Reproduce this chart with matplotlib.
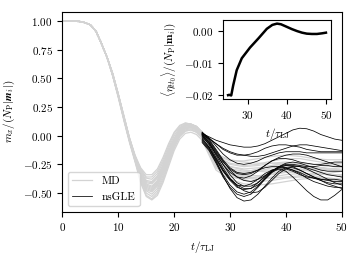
import matplotlib
matplotlib.use("Agg")
import matplotlib.pyplot as plt

plt.rcParams['font.family'] = 'serif'
plt.rcParams['font.serif'] = ['cmr10']
plt.rcParams['mathtext.fontset'] = 'cm'
plt.rcParams['axes.formatter.use_mathtext'] = True
plt.rcParams['font.size'] = 8

# MD trajectories: t = 0..25 (step 1), then 27.5..50 (step 2.5)
t_md = [0, 1, 2, 3, 4, 5, 6, 7, 8, 9, 10, 11, 12, 13, 14, 15, 16, 17, 18, 19, 20,
        21, 22, 23, 24, 25, 27.5, 30, 32.5, 35, 37.5, 40, 42.5, 45, 47.5, 50]
md_head = [1.0, 1.0, 0.998, 0.995, 0.985, 0.965, 0.91, 0.80, 0.68]
md_mid = [
    [0.53, 0.35, 0.16, -0.03, -0.19, -0.32, -0.40, -0.41, -0.36, -0.26, -0.14, -0.03, 0.05, 0.09, 0.10, 0.08, 0.03],
    [0.52, 0.34, 0.14, -0.05, -0.22, -0.40, -0.52, -0.55, -0.50, -0.39, -0.25, -0.11, -0.01, 0.04, 0.05, 0.03, -0.02],
    [0.54, 0.36, 0.17, -0.02, -0.17, -0.28, -0.34, -0.34, -0.29, -0.19, -0.07, 0.03, 0.09, 0.11, 0.10, 0.07, 0.02],
    [0.53, 0.35, 0.15, -0.04, -0.20, -0.35, -0.45, -0.47, -0.42, -0.31, -0.18, -0.06, 0.03, 0.07, 0.08, 0.06, 0.01],
    [0.53, 0.35, 0.16, -0.03, -0.19, -0.33, -0.42, -0.44, -0.39, -0.28, -0.16, -0.05, 0.04, 0.08, 0.09, 0.07, 0.02],
    [0.52, 0.34, 0.15, -0.04, -0.21, -0.37, -0.48, -0.51, -0.46, -0.35, -0.21, -0.08, 0.01, 0.05, 0.06, 0.04, -0.01],
    [0.54, 0.36, 0.17, -0.02, -0.18, -0.30, -0.37, -0.38, -0.33, -0.23, -0.11, 0.00, 0.07, 0.10, 0.10, 0.08, 0.03],
    [0.53, 0.35, 0.15, -0.04, -0.20, -0.34, -0.43, -0.45, -0.40, -0.29, -0.17, -0.06, 0.03, 0.07, 0.08, 0.06, 0.01],
    [0.52, 0.34, 0.14, -0.05, -0.22, -0.38, -0.50, -0.53, -0.48, -0.37, -0.23, -0.10, 0.00, 0.04, 0.05, 0.03, -0.02],
    [0.54, 0.36, 0.16, -0.03, -0.18, -0.31, -0.39, -0.40, -0.35, -0.25, -0.13, -0.02, 0.06, 0.10, 0.10, 0.08, 0.03],
    [0.53, 0.35, 0.15, -0.04, -0.21, -0.36, -0.46, -0.48, -0.43, -0.32, -0.19, -0.07, 0.02, 0.06, 0.07, 0.05, 0.00],
    [0.53, 0.35, 0.16, -0.03, -0.19, -0.32, -0.41, -0.42, -0.37, -0.27, -0.15, -0.04, 0.05, 0.09, 0.09, 0.07, 0.02],
    [0.52, 0.33, 0.13, -0.06, -0.23, -0.41, -0.53, -0.56, -0.52, -0.41, -0.27, -0.13, -0.03, 0.02, 0.03, 0.01, -0.04],
    [0.54, 0.36, 0.17, -0.02, -0.18, -0.29, -0.36, -0.36, -0.31, -0.21, -0.09, 0.02, 0.08, 0.11, 0.10, 0.08, 0.03],
    [0.53, 0.35, 0.15, -0.04, -0.20, -0.34, -0.44, -0.46, -0.41, -0.30, -0.17, -0.06, 0.03, 0.07, 0.08, 0.06, 0.01],
    [0.53, 0.34, 0.15, -0.04, -0.21, -0.36, -0.47, -0.49, -0.44, -0.33, -0.20, -0.08, 0.02, 0.06, 0.07, 0.05, 0.00],
]
md_tail = [
    [-0.20, -0.27, -0.29, -0.28, -0.26, -0.25, -0.26, -0.28, -0.29, -0.28],
    [-0.28, -0.36, -0.38, -0.36, -0.33, -0.31, -0.32, -0.35, -0.37, -0.38],
    [-0.17, -0.22, -0.22, -0.20, -0.18, -0.17, -0.18, -0.20, -0.21, -0.21],
    [-0.24, -0.31, -0.33, -0.31, -0.28, -0.27, -0.29, -0.32, -0.34, -0.34],
    [-0.22, -0.30, -0.34, -0.35, -0.34, -0.32, -0.30, -0.29, -0.30, -0.31],
    [-0.27, -0.35, -0.39, -0.40, -0.39, -0.37, -0.36, -0.37, -0.39, -0.41],
    [-0.18, -0.24, -0.26, -0.25, -0.22, -0.20, -0.20, -0.22, -0.24, -0.26],
    [-0.23, -0.29, -0.31, -0.30, -0.30, -0.31, -0.33, -0.34, -0.33, -0.31],
    [-0.26, -0.33, -0.36, -0.37, -0.37, -0.36, -0.35, -0.36, -0.38, -0.40],
    [-0.19, -0.25, -0.27, -0.26, -0.24, -0.23, -0.24, -0.25, -0.25, -0.24],
    [-0.25, -0.32, -0.35, -0.35, -0.33, -0.30, -0.29, -0.30, -0.33, -0.36],
    [-0.21, -0.27, -0.30, -0.31, -0.32, -0.32, -0.31, -0.29, -0.27, -0.26],
    [-0.30, -0.38, -0.42, -0.43, -0.42, -0.40, -0.38, -0.37, -0.37, -0.38],
    [-0.16, -0.21, -0.23, -0.24, -0.24, -0.25, -0.27, -0.29, -0.30, -0.30],
    [-0.24, -0.31, -0.32, -0.29, -0.26, -0.24, -0.25, -0.27, -0.29, -0.30],
    [-0.26, -0.34, -0.37, -0.38, -0.36, -0.34, -0.33, -0.33, -0.34, -0.35],
]

# nsGLE trajectories started at t = 25
t_gle = [25, 26.25, 27.5, 28.75, 30, 31.25, 32.5, 33.75, 35, 36.25, 37.5,
         38.75, 40, 41.25, 42.5, 43.75, 45, 46.25, 47.5, 48.75, 50]
gle_runs = [
    [0.02, -0.01, -0.04, -0.06, -0.08, -0.09, -0.10, -0.10, -0.09, -0.07, -0.04, -0.01, 0.02, 0.05, 0.065, 0.06, 0.04, 0.01, -0.01, -0.03, -0.04],
    [0.01, -0.03, -0.07, -0.11, -0.14, -0.16, -0.17, -0.18, -0.18, -0.17, -0.15, -0.13, -0.11, -0.09, -0.08, -0.08, -0.09, -0.10, -0.11, -0.12, -0.13],
    [0.03, -0.02, -0.09, -0.16, -0.21, -0.24, -0.25, -0.24, -0.22, -0.19, -0.17, -0.15, -0.14, -0.14, -0.14, -0.15, -0.15, -0.15, -0.15, -0.15, -0.15],
    [-0.02, -0.10, -0.22, -0.35, -0.46, -0.54, -0.57, -0.56, -0.51, -0.44, -0.37, -0.31, -0.28, -0.28, -0.30, -0.33, -0.36, -0.39, -0.42, -0.44, -0.46],
    [0.00, -0.08, -0.19, -0.30, -0.38, -0.43, -0.44, -0.42, -0.38, -0.33, -0.30, -0.29, -0.31, -0.36, -0.42, -0.48, -0.53, -0.56, -0.56, -0.52, -0.47],
    [-0.05, -0.12, -0.23, -0.34, -0.43, -0.49, -0.51, -0.49, -0.44, -0.37, -0.31, -0.27, -0.26, -0.27, -0.30, -0.33, -0.36, -0.38, -0.39, -0.40, -0.40],
    [0.01, -0.06, -0.17, -0.28, -0.37, -0.43, -0.46, -0.46, -0.43, -0.38, -0.32, -0.27, -0.24, -0.23, -0.24, -0.26, -0.28, -0.30, -0.31, -0.31, -0.31],
    [-0.03, -0.10, -0.20, -0.30, -0.38, -0.44, -0.48, -0.50, -0.49, -0.45, -0.39, -0.33, -0.29, -0.27, -0.27, -0.28, -0.30, -0.32, -0.34, -0.35, -0.36],
    [0.02, -0.04, -0.13, -0.22, -0.30, -0.36, -0.39, -0.40, -0.38, -0.35, -0.31, -0.28, -0.26, -0.26, -0.27, -0.29, -0.32, -0.35, -0.38, -0.41, -0.43],
    [-0.01, -0.07, -0.16, -0.25, -0.32, -0.36, -0.37, -0.35, -0.31, -0.26, -0.22, -0.20, -0.20, -0.21, -0.23, -0.24, -0.25, -0.25, -0.24, -0.23, -0.23],
    [0.03, -0.03, -0.12, -0.21, -0.28, -0.32, -0.33, -0.32, -0.30, -0.28, -0.27, -0.27, -0.28, -0.30, -0.32, -0.35, -0.37, -0.39, -0.41, -0.42, -0.42],
    [-0.06, -0.13, -0.24, -0.36, -0.45, -0.51, -0.53, -0.51, -0.45, -0.38, -0.32, -0.29, -0.29, -0.31, -0.34, -0.36, -0.37, -0.38, -0.38, -0.38, -0.39],
    [0.02, -0.02, -0.07, -0.12, -0.15, -0.17, -0.17, -0.16, -0.14, -0.11, -0.09, -0.08, -0.08, -0.09, -0.10, -0.12, -0.13, -0.14, -0.14, -0.14, -0.14],
    [0.00, -0.06, -0.15, -0.25, -0.34, -0.41, -0.44, -0.44, -0.41, -0.36, -0.31, -0.27, -0.25, -0.25, -0.26, -0.27, -0.27, -0.26, -0.26, -0.27, -0.27],
    [-0.04, -0.11, -0.21, -0.31, -0.39, -0.45, -0.47, -0.46, -0.41, -0.35, -0.30, -0.28, -0.28, -0.30, -0.33, -0.37, -0.40, -0.42, -0.44, -0.45, -0.45],
    [0.01, -0.05, -0.14, -0.23, -0.29, -0.33, -0.34, -0.33, -0.30, -0.26, -0.22, -0.19, -0.17, -0.16, -0.16, -0.17, -0.19, -0.21, -0.23, -0.25, -0.27],
]

# mean noise (inset)
t_noise = [25.0, 25.3, 25.8, 26.3, 27.2, 28.5, 30.6, 32.8, 34.9, 36.3, 37.5, 38.5,
           40.0, 41.3, 42.6, 43.9, 45.1, 46.4, 47.7, 49.0, 50.0]
noise_mean = [-0.0199, -0.0198, -0.0200, -0.0169, -0.0122, -0.0085, -0.0052, -0.0023,
              0.0006, 0.0018, 0.0022, 0.0020, 0.0012, 0.0005, -0.0001, -0.0006,
              -0.0009, -0.0010, -0.0010, -0.0008, -0.0006]

fig = plt.figure(figsize=(3.6, 2.6), dpi=100)
ax = fig.add_axes([0.1736, 0.186, 0.7755, 0.769])

for i in range(len(md_mid)):
    y = md_head + md_mid[i] + md_tail[i]
    ax.plot(t_md, y, color='lightgray', lw=0.9, label='MD' if i == 0 else None)
for i, run in enumerate(gle_runs):
    ax.plot(t_gle, run, color='black', lw=0.55, label='nsGLE' if i == 0 else None)

ax.set_xlim(0, 50)
ax.set_ylim(-0.662, 1.08)
ax.set_xticks([0, 10, 20, 30, 40, 50])
ax.set_yticks([-0.5, -0.25, 0, 0.25, 0.5, 0.75, 1.0])
ax.set_xlabel(r'$t/\tau_\mathrm{LJ}$')
ax.set_ylabel(r'$m_x/(N_\mathrm{P}|\mathbfit{m}_i|)$')
ax.legend(loc='lower left', fontsize=8, handlelength=1.8)

axin = fig.add_axes([0.620, 0.619, 0.299, 0.304])
axin.plot(t_noise, noise_mean, color='black', lw=1.8)
axin.set_xticks([30, 40, 50])
axin.set_yticks([-0.02, -0.01, 0.0])
axin.set_xlabel(r'$t/\tau_\mathrm{LJ}$')
axin.set_ylabel(r'$\langle\eta_{tt_0}\rangle/(N_\mathrm{P}|\mathbf{m}_i|)$')

fig.savefig('out.png', dpi=100)
